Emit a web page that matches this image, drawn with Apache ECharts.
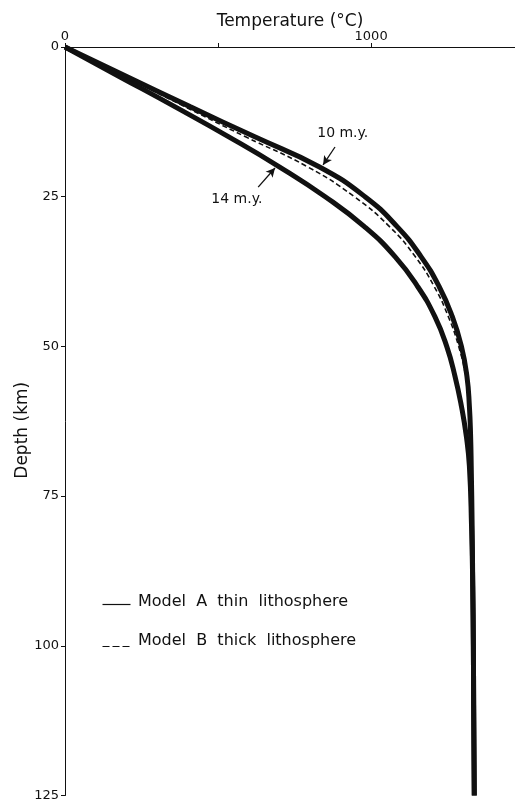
<!DOCTYPE html>
<html>
<head>
<meta charset="utf-8">
<script src="https://cdn.jsdelivr.net/npm/echarts@6/dist/echarts.min.js"></script>
<style>
  html, body { margin: 0; padding: 0; background: #fff; }
  #chart { width: 515px; height: 802px; }
</style>
</head>
<body>
<div id="chart"></div>
<script>
// Depth (km) at which temperatures are sampled
const depths = [0, 5, 10, 15, 20, 25, 30, 35, 40, 45, 50, 55, 60, 65, 70, 80, 90, 100, 110, 125];

// Model A (thin lithosphere), geotherm after 10 m.y. (°C)
const modelA10 = [0, 205, 410, 620, 830, 980, 1085, 1163, 1222, 1265, 1295, 1313, 1321, 1325, 1327, 1330, 1332, 1334, 1335, 1337];
// Model A (thin lithosphere), geotherm after 14 m.y. (°C)
const modelA14 = [0, 180, 360, 535, 700, 850, 978, 1078, 1152, 1208, 1247, 1274, 1295, 1311, 1321, 1328, 1332, 1334, 1335, 1337];
// Model B (thick lithosphere), geotherm after 10 m.y. (°C) — down to 60 km
const modelB10Depths = [0, 5, 10, 15, 20, 25, 30, 35, 40, 45, 50, 55, 60];
const modelB10 = [0, 198, 393, 590, 792, 945, 1060, 1144, 1206, 1252, 1286, 1309, 1320];

// Axis ticks
const tempTicks = [0, 1000];
const depthTicks = [0, 25, 50, 75, 100, 125];

const FONT = '"DejaVu Sans", "Liberation Sans", sans-serif';
const INK = '#111';

const pairs = (temps, zs) => temps.map((t, i) => [t, zs[i]]);

const chart = echarts.init(document.getElementById('chart'), null, { renderer: 'canvas' });

chart.setOption({
  backgroundColor: '#fff',
  animation: false,
  grid: { left: 65, right: 0, top: 47, bottom: 6, containLabel: false },
  xAxis: {
    type: 'value',
    position: 'top',
    min: 0,
    max: 1470,
    interval: 500,
    name: 'Temperature (°C)',
    nameLocation: 'middle',
    nameGap: 17,
    nameMoveOverlap: false,
    nameTextStyle: { color: INK, fontSize: 17, fontFamily: FONT },
    axisLine: { show: true, lineStyle: { color: INK, width: 1 } },
    axisTick: { show: true, length: 4, lineStyle: { color: INK } },
    axisLabel: {
      color: INK, fontSize: 13, fontFamily: FONT, margin: 4,
      showMaxLabel: false,
      formatter: v => tempTicks.includes(v) ? String(v) : ''
    },
    splitLine: { show: false }
  },
  yAxis: {
    type: 'value',
    inverse: true,
    min: 0,
    max: 125,
    interval: 25,
    name: 'Depth (km)',
    nameLocation: 'middle',
    nameRotate: 90,
    nameGap: 34,
    nameMoveOverlap: false,
    nameTextStyle: { color: INK, fontSize: 17, fontFamily: FONT, padding: [0, 18, 0, 0] },
    axisLine: { show: true, lineStyle: { color: INK, width: 1 } },
    axisTick: { show: true, length: 4, lineStyle: { color: INK } },
    axisLabel: {
      color: INK, fontSize: 13, fontFamily: FONT, margin: 6,
      formatter: v => depthTicks.includes(v) ? String(v) : ''
    },
    splitLine: { show: false }
  },
  series: [
    {
      name: 'Model A 14 m.y.',
      type: 'line',
      data: pairs(modelA14, depths),
      smooth: 0.5,
      showSymbol: false,
      lineStyle: { color: INK, width: 5 },
      z: 3,
      markLine: {
        silent: true,
        symbol: ['none', 'arrow'],
        symbolSize: [7, 9],
        lineStyle: { color: INK, width: 1.3, type: 'solid', curveness: -0.25 },
        label: {
          show: true, position: 'start', formatter: '14 m.y.',
          color: INK, fontSize: 14, fontFamily: FONT,
          offset: [-18, 8]
        },
        data: [[{ coord: [631, 23.4] }, { coord: [686, 20.2] }]]
      }
    },
    {
      name: 'Model A 10 m.y.',
      type: 'line',
      data: pairs(modelA10, depths),
      smooth: 0.5,
      showSymbol: false,
      lineStyle: { color: INK, width: 5 },
      z: 3,
      markLine: {
        silent: true,
        symbol: ['none', 'arrow'],
        symbolSize: [7, 9],
        lineStyle: { color: INK, width: 1.3, type: 'solid', curveness: 0.1 },
        label: {
          show: true, position: 'start', formatter: '10 m.y.',
          color: INK, fontSize: 14, fontFamily: FONT,
          offset: [5, -2]
        },
        data: [[{ coord: [882, 16.7] }, { coord: [843, 19.7] }]]
      }
    },
    {
      name: 'Model B 10 m.y.',
      type: 'line',
      data: pairs(modelB10, modelB10Depths),
      smooth: 0.5,
      showSymbol: false,
      lineStyle: { color: INK, width: 1.6, type: [5, 3] },
      z: 4
    }
  ],
  graphic: [
    // key: solid line = Model A, dashed line = Model B
    { type: 'line', left: 100, top: 602, shape: { x1: 0, y1: 0, x2: 28, y2: 0 },
      style: { stroke: INK, lineWidth: 1.2 } },
    { type: 'text', left: 138, top: 594,
      style: { text: 'Model  A  thin  lithosphere', fill: INK, font: '16px ' + FONT } },
    { type: 'line', left: 100, top: 644, shape: { x1: 0, y1: 0, x2: 27, y2: 0 },
      style: { stroke: INK, lineWidth: 1.2, lineDash: [7, 3] } },
    { type: 'text', left: 138, top: 633,
      style: { text: 'Model  B  thick  lithosphere', fill: INK, font: '16px ' + FONT } }
  ]
});
</script>
</body>
</html>
